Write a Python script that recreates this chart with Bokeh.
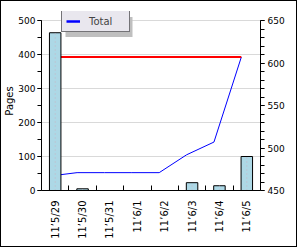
import math
from bokeh.plotting import figure
from bokeh.models import (Range1d, LinearAxis, SingleIntervalTicker, FixedTicker,
                          Legend, LegendItem, BoxAnnotation, ColumnDataSource)
from bokeh.embed import file_html
from bokeh.resources import INLINE

# ---- data ----
categories = ["11\u20195/29", "11\u20195/30", "11\u20195/31", "11\u20196/1",
              "11\u20196/2", "11\u20196/3", "11\u20196/4", "11\u20196/5"]
pages = [464, 5, 0, 0, 0, 23, 14, 100]          # bars, left axis
total = [467, 471, 471, 471, 471, 492, 507, 607]  # blue line, right axis
limit = [607, 607, 607, 607, 607, 607, 607, 607]  # red line, right axis
left_min, left_max = 0, 500
right_min, right_max = 450, 650
y_label = "Pages"
legend_label = "Total"

n = len(categories)
bar_x = [i + 0.5 for i in range(n)]
line_x = [i + 0.3 for i in range(n)]

FONT = "DejaVu Sans"
FS = "10px"
FS_Y = "9px"

# frame extends 9px above the top tick so the legend (which overlaps it) is not clipped
PLOT_H = 170.0
EXTRA = 9.0
stretch = (PLOT_H + EXTRA) / PLOT_H

p = figure(width=297, height=247, output_backend="svg", toolbar_location=None,
           x_range=Range1d(0, n),
           y_range=Range1d(left_min, left_min + (left_max - left_min) * stretch),
           min_border_left=40, min_border_right=38, min_border_top=10,
           min_border_bottom=58)
p.styles = {"border": "1px solid black"}
p.outline_line_color = None
p.background_fill_color = "white"
p.border_fill_color = "white"
p.extra_y_ranges = {"right": Range1d(right_min, right_min + (right_max - right_min) * stretch)}

# axes
p.xaxis.ticker = FixedTicker(ticks=bar_x, minor_ticks=list(range(1, n)))
p.xaxis.major_label_overrides = {x: c for x, c in zip(bar_x, categories)}
p.xaxis.major_label_orientation = math.pi / 2
p.xaxis.major_tick_in = 0
p.xaxis.major_tick_out = 0
p.xaxis.minor_tick_in = 5
p.xaxis.minor_tick_out = 0
p.xaxis.major_label_standoff = 10
p.xaxis.major_label_text_font_size = FS

p.yaxis.ticker = SingleIntervalTicker(interval=100, num_minor_ticks=2)
p.yaxis.bounds = (left_min, left_max)
p.yaxis.axis_label = y_label
p.yaxis.axis_label_standoff = 0
p.yaxis.axis_label_text_font_style = "normal"
p.yaxis.axis_label_text_font_size = FS
p.yaxis.major_tick_in = 0
p.yaxis.major_tick_out = 4
p.yaxis.minor_tick_in = 0
p.yaxis.minor_tick_out = 4
p.yaxis.major_label_standoff = 2
p.yaxis.major_label_text_font_size = FS_Y

raxis = LinearAxis(y_range_name="right",
                   ticker=SingleIntervalTicker(interval=50, num_minor_ticks=5),
                   bounds=(right_min, right_max))
raxis.major_tick_in = 0
raxis.major_tick_out = 4
raxis.minor_tick_in = 0
raxis.minor_tick_out = 4
raxis.major_label_standoff = 3
raxis.major_label_text_font_size = FS_Y
p.add_layout(raxis, "right")

for ax in [p.xaxis[0], p.yaxis[0], raxis]:
    ax.major_label_text_font = FONT
    ax.major_label_text_color = "black"
    ax.axis_label_text_font = FONT
    ax.axis_label_text_color = "black"
    ax.axis_line_color = "black"
    ax.major_tick_line_color = "black"
    ax.minor_tick_line_color = "black"

p.xgrid.visible = False
p.ygrid.grid_line_color = "#d9d9d9"
p.ygrid.ticker = p.yaxis[0].ticker
p.ygrid.bounds = (left_min + 1, left_max)

# lines
p.line(line_x, total, y_range_name="right", line_color="#0000ff", line_width=1)
p.line(line_x, limit, y_range_name="right", line_color="#ff0000", line_width=2)

# bars
src = ColumnDataSource(dict(x=bar_x, top=pages, zero=[0] * n))
p.vbar(x="x", top="top", width=0.42, source=src, fill_color="#add8e6",
       line_color="black", line_width=1)
p.segment(x0="x", y0="zero", x1="x", y1="top", source=src,
          line_color="#c8b4c4", line_width=1, line_dash="1 3")

# legend shadow + legend (legend swatch uses an off-range copy of the line style)
shadow = BoxAnnotation(left=63, right=130, top=14.5, bottom=34.5,
                       left_units="canvas", right_units="canvas",
                       top_units="canvas", bottom_units="canvas",
                       fill_color="#bfbfbf", fill_alpha=1, line_color=None)
p.add_layout(shadow)
swatch = p.line([-10, -9], [total[0], total[0]], y_range_name="right",
                line_color="#0000ff", line_width=2.5)
legend = Legend(items=[LegendItem(label=legend_label, renderers=[swatch])],
                location=(20, 158), orientation="vertical",
                padding=4, margin=0, spacing=0,
                glyph_width=14, glyph_height=12, label_height=12,
                label_width=36, label_standoff=9,
                label_text_font=FONT, label_text_font_size=FS,
                border_line_color="black", border_line_width=1,
                background_fill_color="#e9e7ee", background_fill_alpha=1)
p.add_layout(legend, "center")

open("out.html", "w").write(file_html(p, INLINE))
